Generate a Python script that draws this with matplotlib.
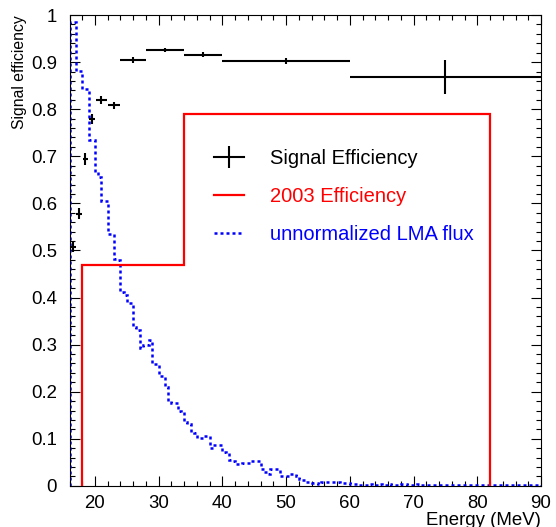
import numpy as np
import matplotlib
matplotlib.use("Agg")
import matplotlib.pyplot as plt
from matplotlib.ticker import MultipleLocator, FuncFormatter
from matplotlib.lines import Line2D

plt.rcParams['font.family'] = ['Liberation Sans', 'DejaVu Sans']

# ---- data ----
sig_x = [16.5, 17.5, 18.5, 19.5, 21, 23, 26, 31, 37, 50, 75]
sig_xerr = [0.45, 0.45, 0.45, 0.45, 0.9, 0.9, 2, 3, 3, 10, 15]
sig_y = [0.507, 0.578, 0.695, 0.779, 0.819, 0.808, 0.904, 0.925, 0.916, 0.902, 0.869]
sig_yerr = [0.011, 0.012, 0.013, 0.010, 0.008, 0.008, 0.006, 0.004, 0.005, 0.006, 0.036]

eff2003_edges = [18, 34, 82]
eff2003_vals = [0.47, 0.79]

flux_lo, flux_hi = 16.0, 90.0
flux_vals = [
    0.986, 0.986, 0.881, 0.881, 0.842, 0.842, 0.734, 0.734,
    0.667, 0.656, 0.604, 0.604, 0.535, 0.535, 0.482, 0.480,
    0.411, 0.405, 0.389, 0.389, 0.338, 0.332, 0.293, 0.299,
    0.299, 0.310, 0.259, 0.259, 0.234, 0.234, 0.209, 0.181,
    0.175, 0.175, 0.160, 0.156, 0.136, 0.132, 0.115, 0.112,
    0.101, 0.101, 0.105, 0.105, 0.081, 0.086, 0.086, 0.086,
    0.073, 0.070, 0.055, 0.053, 0.047, 0.047, 0.048, 0.048,
    0.049, 0.052, 0.052, 0.052, 0.035, 0.030, 0.025, 0.035,
    0.035, 0.035, 0.020, 0.020, 0.021, 0.025, 0.025, 0.022,
    0.014, 0.012, 0.009, 0.009, 0.007, 0.007, 0.004, 0.009,
    0.009, 0.009, 0.009, 0.008, 0.008, 0.006, 0.006, 0.006,
    0.005, 0.005, 0.005, 0.002, 0.002, 0.002, 0.003, 0.002,
    0.002, 0.003, 0.002, 0.002, 0.003, 0.002, 0.002, 0.002,
    0.003, 0.003, 0.002, 0.001, 0.002, 0.003, 0.002, 0.001,
    0.001, 0.001, 0.002, 0.001, 0.001, 0.001, 0.001, 0.002,
    0.001, 0.001, 0.001, 0.001, 0.001, 0.001, 0.001, 0.001,
    0.001, 0.001, 0.001, 0.001, 0.001, 0.001, 0.001, 0.001,
    0.001, 0.001, 0.001, 0.001, 0.001, 0.001, 0.001, 0.001,
    0.001, 0.001, 0.001, 0.001,
]
flux_edges = np.linspace(flux_lo, flux_hi, len(flux_vals) + 1)

labels = ["Signal Efficiency", "2003 Efficiency", "unnormalized LMA flux"]
label_colors = ["black", "red", "blue"]

# ---- figure ----
fig = plt.figure(figsize=(5.56, 5.27), dpi=100)
ax = fig.add_axes([0.125, 0.078, 0.848, 0.8935])

ax.stairs(flux_vals, flux_edges, baseline=0, color="blue",
          lw=1.8, linestyle=(0, (1.2, 1.2)), zorder=2)
ax.stairs(eff2003_vals, eff2003_edges, baseline=0, color="red",
          lw=1.6, zorder=3)
ax.errorbar(sig_x, sig_y, xerr=sig_xerr, yerr=sig_yerr, fmt="none",
            ecolor="black", elinewidth=1.5, capsize=0, zorder=4)

ax.set_xlim(16, 90)
ax.set_ylim(0, 1)

ax.xaxis.set_major_locator(MultipleLocator(10))
ax.xaxis.set_minor_locator(MultipleLocator(2))
ax.yaxis.set_major_locator(MultipleLocator(0.1))
ax.yaxis.set_minor_locator(MultipleLocator(0.02))
ax.yaxis.set_major_formatter(FuncFormatter(lambda v, p: "%g" % round(v, 2)))
ax.xaxis.set_major_formatter(FuncFormatter(lambda v, p: "%g" % v))

ax.tick_params(which="both", direction="in", top=True, right=True,
               width=0.8, colors="black")
ax.tick_params(which="major", length=7, labelsize=13.4)
ax.tick_params(axis="x", which="major", pad=6.5)
ax.tick_params(axis="y", which="major", pad=9)
ax.tick_params(which="minor", length=3.6)
for s in ax.spines.values():
    s.set_linewidth(0.8)

h_sig = Line2D([], [], color="black", lw=1.5, marker="|", markersize=16,
               markeredgewidth=1.5)
h_eff = Line2D([], [], color="red", lw=1.6)
h_flux = Line2D([], [], color="blue", lw=1.8, linestyle=(0, (1.2, 1.2)))
ax.legend([h_sig, h_eff, h_flux], labels, loc="upper left",
          bbox_to_anchor=(0.267, 0.7535), frameon=False, fontsize=14.5,
          handlelength=1.5, handletextpad=1.3, labelspacing=0.95,
          labelcolor=label_colors)

fig.text(20 / 556, 1 - 15 / 527, "Signal efficiency", rotation=90,
         ha="center", va="top", fontsize=11.3)
fig.text(541 / 556, 2 / 527, "Energy (MeV)", ha="right", va="baseline",
         fontsize=13.4)

fig.savefig("out.png", dpi=100)
